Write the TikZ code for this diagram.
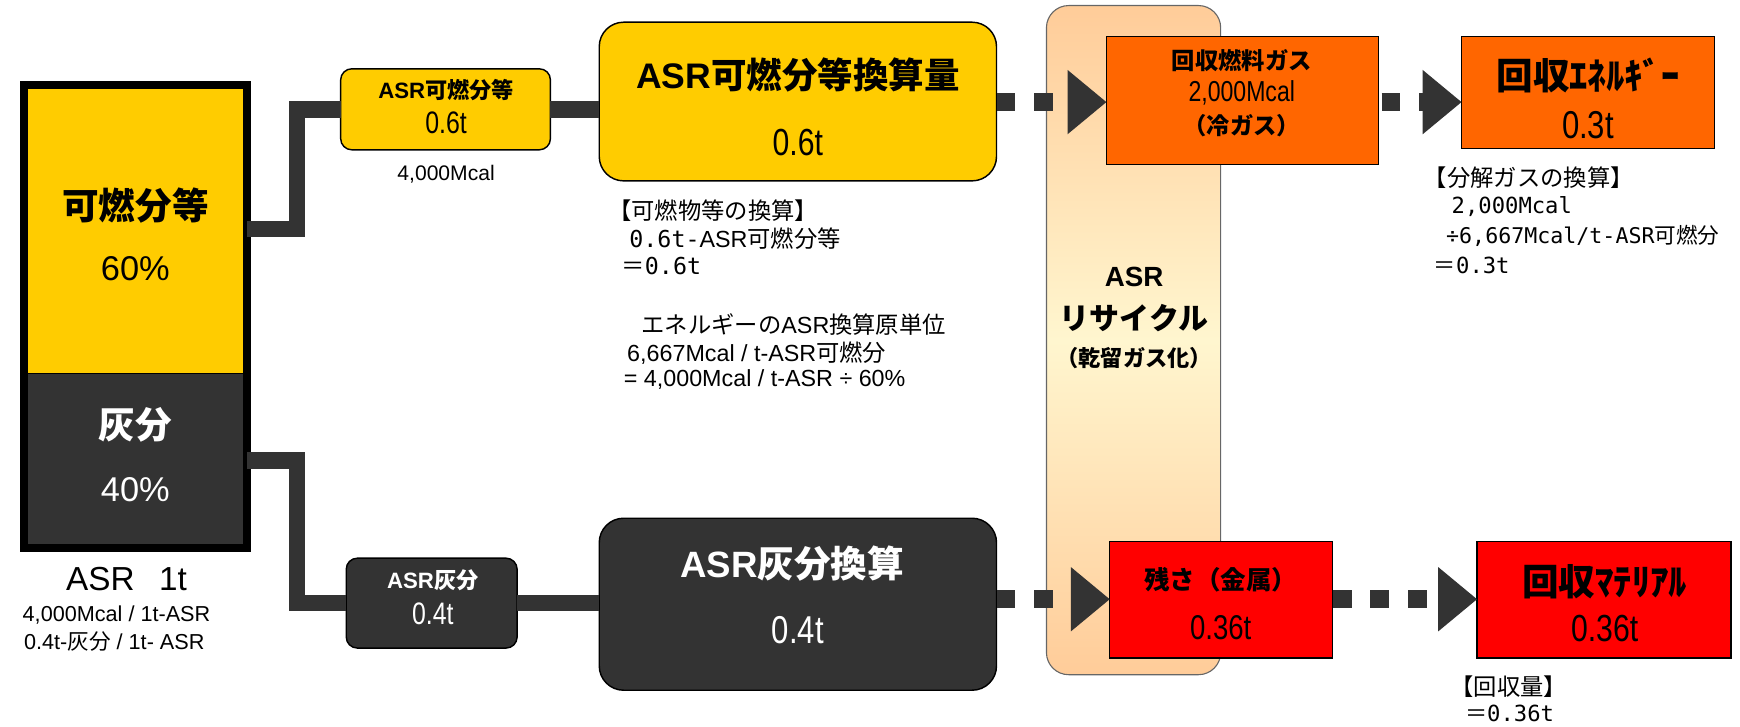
\documentclass[tikz,border=0pt]{standalone}
\usepackage{fontspec}
\setmainfont{Liberation Sans}
\newfontfamily\jp{Noto Sans CJK JP}
\newfontfamily\narrow[FakeStretch=0.8]{Liberation Sans}
\newfontfamily\mono{DejaVu Sans Mono}
\usetikzlibrary{arrows.meta}
\definecolor{yel}{HTML}{FFCC00}
\definecolor{dk}{HTML}{333333}
\definecolor{org}{HTML}{FF6600}
\definecolor{rd}{HTML}{FF0000}
\definecolor{peach}{HTML}{FFCC99}
\definecolor{cream}{HTML}{FFF6CF}
\newcommand\fs[1]{\fontsize{#1}{#1}\selectfont}
\newcommand\J[1]{{\jp #1}}
\begin{document}
\begin{tikzpicture}[x=1pt,y=-1pt,
  box/.style={anchor=north west, inner sep=0pt, outer sep=0pt},
  rbox/.style={box, draw=black, line width=1.3pt, rounded corners=#1},
  sbox/.style={box, draw=black, line width=1.3pt},
  conn/.style={draw=dk, line width=15pt},
  dconn/.style={draw=dk, line width=16pt, dash pattern=on 17pt off 17pt,
     -{Triangle[length=35pt,width=58pt,line width=0pt]}},
  lbl/.style={inner sep=0pt, align=center},
  ann/.style={inner sep=0pt, anchor=west},
]
\useasboundingbox (0,0) rectangle (1568,655);

% recycling column
\node[box, draw=black!60, line width=1pt, rounded corners=20pt,
  top color=peach, bottom color=peach, middle color=cream,
  minimum width=157pt, minimum height=603pt] (col) at (943,5) {};
\node[lbl] at (1022,250) {\fs{25}\bfseries ASR};
\node[lbl] at (1022,287) {\fs{27}\bfseries\J{リサイクル}};
\node[lbl] at (1022,323) {\fs{20}\bfseries\J{（乾留ガス化）}};

% left ASR box
\node[box, fill=yel, minimum width=201pt, minimum height=260pt] (comb) at (21.5,76.5) {};
\node[box, fill=dk, minimum width=201pt, minimum height=157.5pt] (ash) at (21.5,336.5) {};
\draw[black, line width=1pt] (comb.south west) -- (comb.south east);
\node[box, draw=black, line width=7pt, minimum width=201pt, minimum height=417pt] (asr) at (21.5,76.5) {};
\node[lbl] at (122,185) {\fs{33}\bfseries\J{可燃分等}};
\node[lbl] at (122,242) {\fs{31}60\%};
\node[lbl, text=white] at (122,383) {\fs{33}\bfseries\J{灰分}};
\node[lbl, text=white] at (122,441) {\fs{31}40\%};
\node[lbl] at (114,522) {\fs{30}ASR\hspace{22pt}1t};
\node[lbl] at (105,554) {\fs{19.5}4,000Mcal / 1t-ASR};
\node[lbl] at (103,578) {\fs{19.5}0.4t-\J{灰分} / 1t- ASR};

% top branch
\node[rbox=10pt, fill=yel, minimum width=189pt, minimum height=73pt] (sy) at (307,62) {};
\node[lbl] at (402,81) {\fs{20}\bfseries ASR\J{可燃分等}};
\node[lbl] at (402,111) {\fs{28}\narrow 0.6t};
\node[lbl] at (402,157) {\fs{19}4,000Mcal};
\node[rbox=22pt, fill=yel, minimum width=358pt, minimum height=143pt] (by) at (540,20) {};
\node[lbl] at (719,68) {\fs{32}\bfseries ASR\J{可燃分等換算量}};
\node[lbl] at (719,128) {\fs{34}\narrow 0.6t};

% bottom branch
\node[rbox=10pt, fill=dk, minimum width=154pt, minimum height=81pt] (sd) at (312,503) {};
\node[lbl, text=white] at (390,523) {\fs{20}\bfseries ASR\J{灰分}};
\node[lbl, text=white] at (390,553) {\fs{28}\narrow 0.4t};
\node[rbox=22pt, fill=dk, minimum width=358pt, minimum height=155pt] (bd) at (540,467) {};
\node[lbl, text=white] at (714,508) {\fs{33}\bfseries ASR\J{灰分換算}};
\node[lbl, text=white] at (719,568) {\fs{35}\narrow 0.4t};

% outputs
\node[sbox, fill=org, minimum width=245pt, minimum height=115pt] (o1) at (997,33) {};
\node[lbl] at (1119,55) {\fs{21}\bfseries\J{回収燃料ガス}};
\node[lbl] at (1119,84) {\fs{26}\narrow 2,000Mcal};
\node[lbl] at (1119,113) {\fs{21}\bfseries\J{（冷ガス）}};
\node[sbox, fill=org, minimum width=228pt, minimum height=101pt] (o2) at (1317,33) {};
\node[lbl] at (1431,68) {\fs{33}\bfseries\J{回収ｴﾈﾙｷﾞｰ}};
\node[lbl] at (1431,113) {\fs{35}\narrow 0.3t};
\node[sbox, fill=rd, minimum width=201pt, minimum height=105pt] (r1) at (1000,488) {};
\node[lbl] at (1100,522) {\fs{23}\bfseries\J{残さ（金属）}};
\node[lbl] at (1100,566) {\fs{31}\narrow 0.36t};
\node[sbox, fill=rd, minimum width=229pt, minimum height=105pt] (r2) at (1331,488) {};
\node[lbl] at (1446,524) {\fs{33}\bfseries\J{回収ﾏﾃﾘｱﾙ}};
\node[lbl] at (1446,566) {\fs{34}\narrow 0.36t};

% connectors
\coordinate (rowt) at (0,92);
\coordinate (rowb) at (0,540);
\draw[conn] (comb.east) -- ++(45,0) |- (sy.west);
\draw[conn] (ash.east) -- ++(45,0) |- (sd.west);
\draw[conn] (sy.east) -- (sy.east -| by.west);
\draw[conn] (sd.east) -- (sd.east -| bd.west);
\draw[dconn] (by.east |- rowt) -- (o1.west |- rowt);
\draw[dconn, dash phase=31pt] (o1.east |- rowt) -- (o2.west |- rowt);
\draw[dconn] (bd.east |- rowb) -- (r1.west |- rowb);
\draw[dconn] (r1.east |- rowb) -- (r2.west |- rowb);

% annotations
\node[ann] at (548,190) {\fs{21}\J{【可燃物等の換算】}};
\node[ann] at (567,215) {\fs{21}{\mono 0.6t-}ASR\J{可燃分等}};
\node[ann] at (560,240) {\fs{21}\J{＝}{\mono 0.6t}};
\node[ann] at (578,292) {\fs{21}\J{エネルギーの}ASR\J{換算原単位}};
\node[ann] at (565,318) {\fs{21}6,667Mcal / t-ASR\J{可燃分}};
\node[ann] at (562,342) {\fs{21}= 4,000Mcal / t-ASR ÷ 60\%};
\node[ann] at (1283,160) {\fs{21}\J{【分解ガスの換算】}};
\node[ann] at (1308,186) {\fs{20}\mono 2,000Mcal};
\node[ann] at (1303,213) {\fs{19.5}{\mono ÷6,667Mcal/t-ASR}\J{可燃分}};
\node[ann] at (1292,239) {\fs{20}\J{＝}{\mono 0.3t}};
\node[ann] at (1307,619) {\fs{21}\J{【回収量】}};
\node[ann] at (1320,643) {\fs{20}\J{＝}{\mono 0.36t}};
\end{tikzpicture}
\end{document}
